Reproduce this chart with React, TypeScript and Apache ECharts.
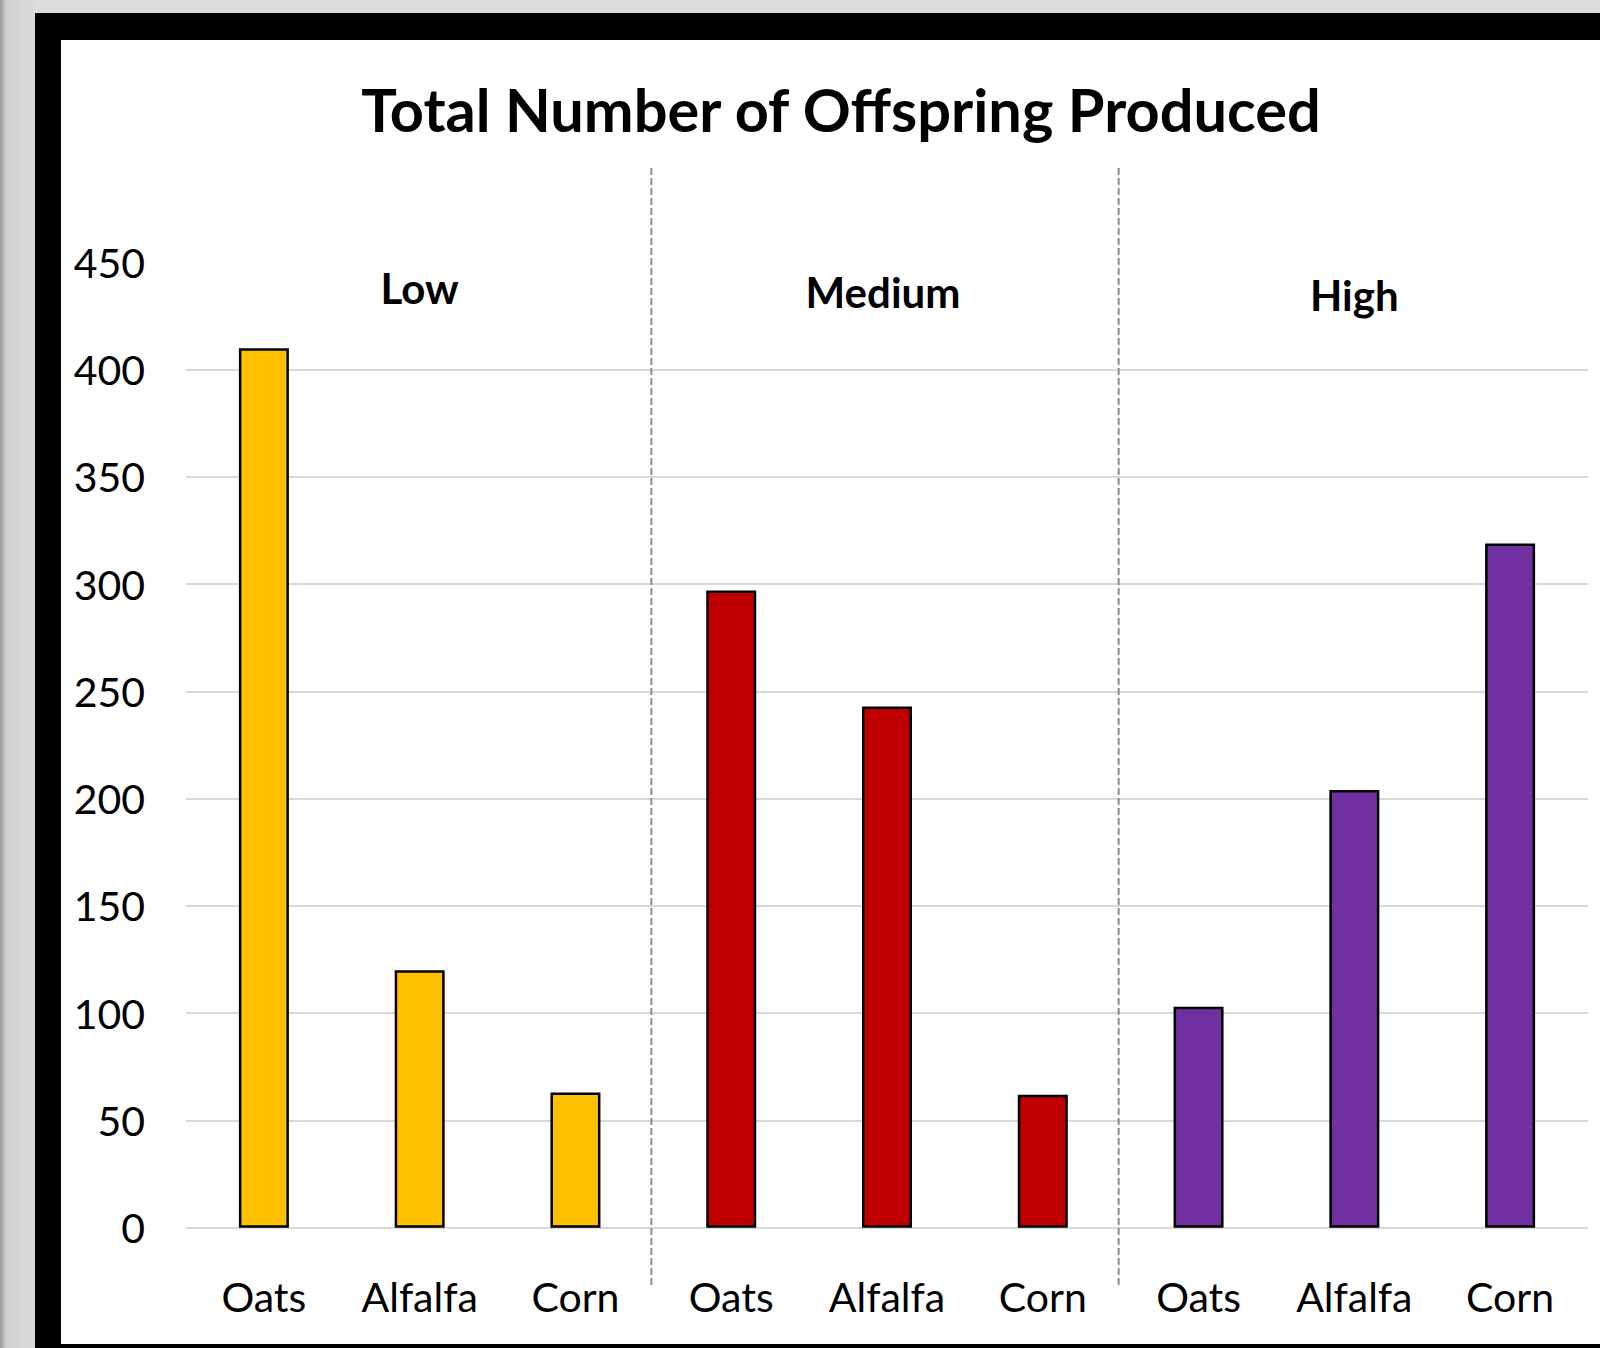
import React, { useEffect, useRef } from "react";
import * as echarts from "echarts";

const chartTitle = "Total Number of Offspring Produced";
const categories = ["Oats", "Alfalfa", "Corn", "Oats", "Alfalfa", "Corn", "Oats", "Alfalfa", "Corn"];
const groups = ["Low", "Medium", "High"];
const lowValues = [410, 120, 63];
const mediumValues = [297, 243, 62];
const highValues = [103, 204, 319];
const groupColors = ["#FFC000", "#C00000", "#7030A0"];
const yMin = 0;
const yMax = 450;
const yInterval = 50;

const FONT = "Lato, 'Liberation Sans', sans-serif";

export default function App() {
  const ref = useRef<HTMLDivElement>(null);

  useEffect(() => {
    if (!ref.current) return;
    const chart = echarts.init(ref.current, undefined, { renderer: "svg" });

    const groupValues = [lowValues, mediumValues, highValues];
    const barData = groupValues.flatMap((vals, g) =>
      vals.map((v) => ({ value: v, itemStyle: { color: groupColors[g] } }))
    );

    const tickCount = Math.round((yMax - yMin) / yInterval) + 1;
    const gridColors = Array.from({ length: tickCount }, (_, i) =>
      i === tickCount - 1 ? "rgba(0,0,0,0)" : "#d9d9d9"
    );

    chart.setOption({
      animation: false,
      backgroundColor: "transparent",
      title: {
        text: chartTitle,
        left: 836,
        textAlign: "center",
        top: 74,
        textStyle: { fontSize: 59.5, fontWeight: "bold", fontFamily: FONT, color: "#000" },
      },
      grid: { left: 186, right: 12, top: 262.4, bottom: 120.3, containLabel: false },
      xAxis: {
        type: "category",
        data: categories,
        axisLine: { show: false },
        axisTick: { show: false },
        axisLabel: { fontSize: 41, fontFamily: FONT, color: "#000", margin: 48, interval: 0 },
        splitLine: { show: false },
      },
      yAxis: {
        type: "value",
        min: yMin,
        max: yMax,
        interval: yInterval,
        axisLine: { show: false },
        axisTick: { show: false },
        axisLabel: { fontSize: 41, fontFamily: FONT, color: "#000", margin: 41 },
        splitLine: { show: true, lineStyle: { color: gridColors, width: 2 } },
      },
      series: [
        {
          type: "bar",
          data: barData,
          barWidth: 50,
          itemStyle: { borderColor: "#000", borderWidth: 2.5 },
        },
      ],
    });

    const px = (i: number) => chart.convertToPixel({ xAxisIndex: 0 }, i) as number;
    const per = lowValues.length;
    const labelY = [288, 292, 295];
    const labelDx = [0, -4, 0];
    const graphics: any[] = [];
    for (let g = 1; g < groups.length; g++) {
      const x = (px(g * per - 1) + px(g * per)) / 2 - 2;
      graphics.push({
        type: "line",
        shape: { x1: x, y1: 168, x2: x, y2: 1288 },
        style: { stroke: "#8c8c8c", lineWidth: 2, lineDash: [7, 3] },
        z: 1,
      });
    }
    groups.forEach((name, g) => {
      const x = (px(g * per) + px(g * per + per - 1)) / 2 + labelDx[g];
      graphics.push({
        type: "text",
        x,
        y: labelY[g],
        style: {
          text: name,
          fontSize: 42,
          fontWeight: "bold",
          fontFamily: FONT,
          fill: "#000",
          align: "center",
          verticalAlign: "middle",
          textAlign: "center",
          textVerticalAlign: "middle",
        },
        z: 5,
      });
    });
    chart.setOption({ graphic: graphics });

    return () => chart.dispose();
  }, []);

  return (
    <div style={{ position: "absolute", left: 0, top: 0, width: 1600, height: 1348, background: "#dcdcdc", overflow: "hidden" }}>
      <div
        style={{
          position: "absolute",
          left: 0,
          top: 0,
          width: 35,
          height: 1348,
          background: "linear-gradient(to right, #9a9a9a 0px, #cfcfcf 6px, #d6d6d6 20px, #dadada 35px)",
        }}
      />
      <div style={{ position: "absolute", left: 35, top: 13, width: 1565, height: 1335, background: "#000" }} />
      <div style={{ position: "absolute", left: 61, top: 40, width: 1539, height: 1304, background: "#fff" }} />
      <div ref={ref} style={{ position: "absolute", left: 0, top: 0, width: 1600, height: 1348 }} />
    </div>
  );
}
